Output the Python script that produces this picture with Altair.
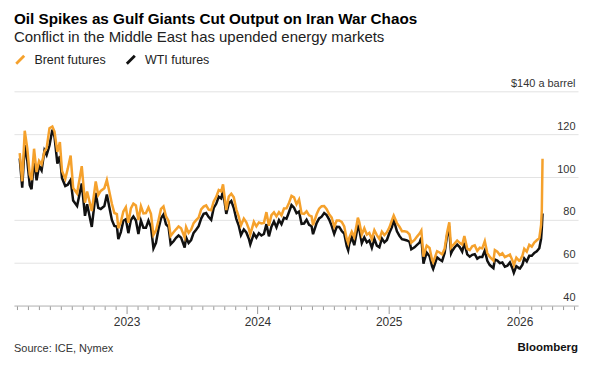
import altair as alt
import pandas as pd

# ---- data ----
dates = [
    "2022-03-09", "2022-03-16", "2022-03-23", "2022-03-30", "2022-04-06", "2022-04-11", "2022-04-18", "2022-04-25",
    "2022-05-02", "2022-05-09", "2022-05-17", "2022-05-23", "2022-05-31", "2022-06-08", "2022-06-14", "2022-06-22",
    "2022-06-29", "2022-07-05", "2022-07-14", "2022-07-21", "2022-07-29", "2022-08-05", "2022-08-16", "2022-08-29",
    "2022-09-07", "2022-09-13", "2022-09-26", "2022-10-07", "2022-10-14", "2022-10-21", "2022-10-31", "2022-11-07",
    "2022-11-14", "2022-11-21", "2022-11-28", "2022-12-05", "2022-12-09", "2022-12-16", "2022-12-23", "2022-12-30",
    "2023-01-06", "2023-01-13", "2023-01-20", "2023-01-27", "2023-02-03", "2023-02-10", "2023-02-17", "2023-02-24",
    "2023-03-03", "2023-03-10", "2023-03-17", "2023-03-24", "2023-03-31", "2023-04-07", "2023-04-14", "2023-04-21",
    "2023-04-28", "2023-05-04", "2023-05-12", "2023-05-19", "2023-05-26", "2023-06-02", "2023-06-12", "2023-06-16",
    "2023-06-23", "2023-06-30", "2023-07-07", "2023-07-14", "2023-07-21", "2023-07-28", "2023-08-04", "2023-08-11",
    "2023-08-18", "2023-08-25", "2023-09-01", "2023-09-08", "2023-09-15", "2023-09-22", "2023-09-27", "2023-10-06",
    "2023-10-13", "2023-10-20", "2023-10-27", "2023-11-03", "2023-11-10", "2023-11-16", "2023-11-24", "2023-12-01",
    "2023-12-08", "2023-12-12", "2023-12-22", "2023-12-29",
    "2024-01-05", "2024-01-12", "2024-01-19", "2024-01-26", "2024-02-02", "2024-02-09", "2024-02-16", "2024-02-23",
    "2024-03-01", "2024-03-08", "2024-03-15", "2024-03-22", "2024-03-28", "2024-04-05", "2024-04-12", "2024-04-19",
    "2024-04-26", "2024-05-03", "2024-05-10", "2024-05-17", "2024-05-24", "2024-05-31", "2024-06-04", "2024-06-14",
    "2024-06-21", "2024-06-28", "2024-07-05", "2024-07-12", "2024-07-19", "2024-07-26", "2024-08-02", "2024-08-09",
    "2024-08-16", "2024-08-23", "2024-08-30", "2024-09-06", "2024-09-10", "2024-09-13", "2024-09-20", "2024-09-27",
    "2024-10-04", "2024-10-07", "2024-10-11", "2024-10-18", "2024-10-25", "2024-11-01", "2024-11-08", "2024-11-15",
    "2024-11-22", "2024-11-29", "2024-12-06", "2024-12-13", "2024-12-20", "2024-12-27",
    "2025-01-03", "2025-01-10", "2025-01-15", "2025-01-24", "2025-01-31", "2025-02-07", "2025-02-14", "2025-02-21",
    "2025-02-28", "2025-03-05", "2025-03-14", "2025-03-21", "2025-03-28", "2025-04-02", "2025-04-08", "2025-04-11",
    "2025-04-17", "2025-04-25", "2025-05-02", "2025-05-05", "2025-05-16", "2025-05-23", "2025-05-30", "2025-06-06",
    "2025-06-13", "2025-06-19", "2025-06-24", "2025-06-27", "2025-07-03", "2025-07-11", "2025-07-18", "2025-07-25",
    "2025-07-31", "2025-08-08", "2025-08-15", "2025-08-22", "2025-08-29", "2025-09-05", "2025-09-12", "2025-09-19",
    "2025-09-26", "2025-10-03", "2025-10-10", "2025-10-20", "2025-10-24", "2025-10-31", "2025-11-07", "2025-11-14",
    "2025-11-21", "2025-11-28", "2025-12-05", "2025-12-12", "2025-12-16", "2025-12-23", "2025-12-31",
    "2026-01-02", "2026-01-09", "2026-01-14", "2026-01-21", "2026-01-28", "2026-02-04", "2026-02-11", "2026-02-18",
    "2026-02-25", "2026-03-02", "2026-03-04", "2026-03-06",
]

brent = [
    111.1, 98.0, 121.6, 113.5, 101.1, 98.5, 113.2, 102.3,
    107.6, 105.9, 111.9, 113.4, 122.8, 123.6, 121.2, 111.7,
    116.3, 102.8, 99.1, 103.9, 110.0, 94.9, 92.3, 105.1,
    88.0, 93.2, 84.1, 97.9, 91.6, 93.5, 94.8, 98.6,
    93.1, 87.5, 83.2, 82.7, 76.1, 79.0, 83.9, 85.9,
    78.6, 85.3, 87.6, 86.7, 79.9, 86.4, 83.0, 83.2,
    85.8, 82.8, 73.0, 75.0, 79.8, 85.1, 86.3, 81.7,
    79.5, 72.5, 74.2, 75.6, 76.9, 76.1, 71.8, 76.6,
    73.9, 75.4, 78.5, 79.9, 81.1, 84.9, 86.2, 86.8,
    84.8, 84.5, 88.6, 90.7, 93.9, 93.3, 96.6, 84.6,
    90.9, 92.2, 90.5, 84.9, 81.4, 77.4, 80.6, 78.9,
    75.8, 73.2, 79.1, 77.0,
    78.8, 78.3, 78.6, 83.6, 77.3, 82.2, 83.5, 81.6,
    83.6, 82.1, 85.3, 85.4, 87.5, 91.2, 90.5, 87.3,
    89.5, 83.0, 82.8, 84.0, 82.1, 81.6, 77.5, 82.6,
    85.2, 86.4, 86.5, 85.0, 82.6, 81.1, 76.8, 79.7,
    79.7, 79.0, 76.9, 71.1, 69.2, 71.6, 74.5, 72.0,
    78.1, 81.0, 79.0, 73.1, 76.1, 73.1, 73.9, 71.0,
    75.2, 72.9, 71.1, 74.5, 72.9, 74.2,
    76.5, 79.8, 82.0, 78.5, 76.8, 74.7, 74.7, 74.4,
    73.2, 69.3, 70.6, 72.2, 73.6, 75.0, 62.8, 64.8,
    68.0, 66.9, 61.3, 60.2, 65.4, 64.8, 63.9, 66.5,
    74.2, 78.9, 67.1, 67.8, 68.8, 70.4, 69.3, 68.4,
    72.5, 66.6, 65.9, 67.7, 68.1, 65.5, 67.0, 66.7,
    70.1, 64.5, 62.7, 61.0, 65.9, 65.1, 63.6, 64.4,
    62.6, 63.2, 63.8, 61.1, 58.9, 62.4, 60.9,
    61.0, 63.3, 66.5, 65.2, 68.4, 67.5, 69.4, 70.5,
    71.5, 77.7, 84.5, 108.5,
]

wti = [
    108.7, 95.0, 114.9, 107.8, 96.2, 94.3, 108.2, 98.5,
    105.2, 103.1, 112.4, 110.3, 114.7, 122.1, 118.9, 106.2,
    109.8, 99.5, 95.8, 96.4, 98.6, 89.0, 86.5, 97.0,
    81.9, 87.3, 76.7, 92.6, 85.6, 85.1, 86.5, 91.8,
    85.9, 80.0, 77.2, 76.9, 71.0, 74.3, 79.6, 80.3,
    73.8, 79.9, 81.6, 79.7, 73.4, 79.7, 76.3, 76.3,
    79.7, 76.7, 66.7, 69.3, 75.7, 80.7, 82.5, 77.9,
    76.8, 68.6, 70.0, 71.6, 72.7, 71.7, 67.1, 71.8,
    69.2, 70.6, 73.9, 75.4, 77.1, 80.6, 82.8, 83.2,
    81.3, 80.0, 85.6, 87.5, 90.8, 90.0, 93.7, 82.8,
    87.7, 88.8, 85.5, 80.5, 77.2, 72.9, 75.5, 74.1,
    71.2, 68.6, 73.6, 71.7,
    73.8, 72.7, 73.4, 78.0, 72.3, 76.8, 79.2, 76.5,
    79.9, 78.0, 81.0, 80.6, 83.2, 86.9, 85.7, 83.1,
    83.9, 78.1, 78.3, 80.1, 77.7, 77.0, 73.3, 78.5,
    80.7, 81.5, 83.2, 82.2, 80.1, 77.2, 73.5, 76.8,
    76.7, 74.8, 73.6, 67.7, 65.8, 68.7, 71.9, 68.2,
    74.4, 77.1, 75.6, 69.2, 71.8, 69.5, 70.4, 67.0,
    71.2, 68.0, 67.2, 71.3, 69.5, 70.6,
    74.0, 76.6, 80.0, 74.7, 72.5, 71.0, 70.7, 70.4,
    69.8, 66.3, 67.2, 68.3, 69.4, 71.7, 59.6, 61.5,
    64.7, 63.0, 58.3, 57.1, 62.5, 61.5, 60.8, 64.6,
    73.0, 75.1, 64.4, 65.5, 67.0, 68.5, 67.3, 65.2,
    69.3, 63.9, 62.8, 63.7, 64.0, 61.9, 62.7, 62.7,
    65.7, 60.9, 58.9, 57.5, 61.5, 61.0, 59.8, 60.1,
    58.1, 58.6, 60.1, 57.4, 55.3, 58.4, 57.4,
    57.3, 59.1, 62.0, 60.6, 63.2, 63.2, 64.6, 65.3,
    66.8, 71.2, 76.0, 83.0,
]

series_names = ["Brent futures", "WTI futures"]
series_colors = ["#F5A12C", "#111111"]
y_ticks = [40, 60, 80, 100, 120, 140]

title_text = "Oil Spikes as Gulf Giants Cut Output on Iran War Chaos"
subtitle_text = "Conflict in the Middle East has upended energy markets"
source_text = "Source: ICE, Nymex"
brand_text = "Bloomberg"

FONT = "Liberation Sans"
W, H = 566, 215

df = pd.concat([
    pd.DataFrame({"date": dates, "price": brent, "series": series_names[0]}),
    pd.DataFrame({"date": dates, "price": wti, "series": series_names[1]}),
])

month_ticks = []
for y in range(2022, 2027):
    for m in range(1, 13):
        if (y == 2022 and m < 3) or (y == 2026 and m > 6):
            continue
        month_ticks.append(alt.DateTime(year=y, month=m, date=1, utc=True))

x_enc = alt.X(
    "date:T",
    scale=alt.Scale(
        type="utc",
        domain=[alt.DateTime(year=2022, month=2, date=21, utc=True),
                alt.DateTime(year=2026, month=6, date=13, utc=True)],
    ),
    axis=alt.Axis(
        values=month_ticks,
        labelExpr="utcmonth(datum.value) === 0 ? utcFormat(datum.value, '%Y') : ''",
        tickSize={"condition": {"test": "utcmonth(datum.value) === 0", "value": 8}, "value": 4},
        tickColor="#9a9a9a",
        domainColor="#bdbdbd",
        grid=False,
        labelFont=FONT,
        labelFontSize=12,
        labelColor="#333333",
        labelPadding=3,
        labelOverlap=False,
        labelFlush=False,
        title=None,
    ),
)

y_enc = alt.Y(
    "price:Q",
    scale=alt.Scale(domain=[40, 140], nice=False, zero=False),
    axis=alt.Axis(
        orient="right",
        values=y_ticks,
        labelExpr="datum.value === 140 ? '$140 a barrel' : datum.label",
        labelAlign="right",
        labelBaseline="alphabetic",
        labelPadding=-3,
        labelOffset=-5,
        tickSize=0,
        ticks=False,
        domain=False,
        grid=True,
        gridColor="#e3e3e3",
        gridWidth=1,
        labelFont=FONT,
        labelFontSize=11,
        labelColor="#333333",
        title=None,
    ),
)

color_enc = alt.Color(
    "series:N",
    scale=alt.Scale(domain=series_names, range=series_colors),
    legend=alt.Legend(
        orient="none",
        legendX=0,
        legendY=-38,
        direction="horizontal",
        title=None,
        symbolType="M-1,1L1,-1",
        symbolStrokeWidth=2.8,
        symbolSize=64,
        labelFont=FONT,
        labelFontSize=12.5,
        labelColor="#222222",
        labelOffset=8,
        columnPadding=14,
    ),
)

base = alt.Chart(df).mark_line(strokeWidth=2.5, interpolate="linear").encode(
    x=x_enc, y=y_enc, color=color_enc
)

wti_layer = base.transform_filter(alt.datum.series == series_names[1])
brent_layer = base.transform_filter(alt.datum.series == series_names[0])

source = alt.Chart(pd.DataFrame({"t": [source_text]})).mark_text(
    align="left", baseline="middle", font=FONT, fontSize=11, color="#333333"
).encode(text="t:N", x=alt.value(0), y=alt.value(259))

brand = alt.Chart(pd.DataFrame({"t": [brand_text]})).mark_text(
    align="right", baseline="middle", font=FONT, fontSize=11.5, fontWeight="bold", color="#111111"
).encode(text="t:N", x=alt.value(W), y=alt.value(258))

chart = alt.layer(wti_layer, brent_layer, source, brand).properties(
    width=W,
    height=H,
    autosize=alt.AutoSizeParams(type="none"),
    padding={"left": 6, "top": 83, "right": 8, "bottom": 50},
    view=alt.ViewBackground(stroke="transparent", strokeWidth=0),
    title=alt.TitleParams(
        text=title_text,
        subtitle=subtitle_text,
        anchor="start",
        frame="group",
        font=FONT,
        fontSize=15.3,
        fontWeight="bold",
        color="#000000",
        subtitleFont=FONT,
        subtitleFontSize=15,
        subtitleColor="#222222",
        subtitlePadding=3,
        offset=8,
    ),
).configure_view(
    stroke="transparent", strokeWidth=0
).configure_axisY(
    domain=False
).configure_axisX(
    grid=False
).configure(background="white")

chart.save("out.html", embed_options={"renderer": "svg", "actions": False})
